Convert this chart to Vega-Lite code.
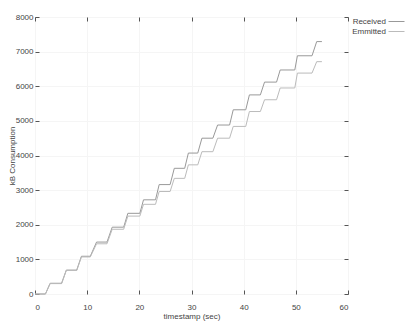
{
  "$schema": "https://vega.github.io/schema/vega-lite/v6.json",
  "width": 313,
  "height": 277,
  "autosize": "none",
  "padding": {"left": 35, "top": 17, "right": 62, "bottom": 28},
  "config": {
    "font": "Liberation Sans",
    "view": {"stroke": "#555", "strokeWidth": 1},
    "axis": {
      "domain": false,
      "tickColor": "#555",
      "tickSize": -4,
      "labelColor": "#444",
      "labelFontSize": 8,
      "titleColor": "#444",
      "titleFontSize": 8,
      "titleFontWeight": "normal",
      "gridColor": "#f5f5f5",
      "gridWidth": 1,
      "format": "d"
    }
  },
  "data": {"values": [
    {"t": 0, "kb": 0, "s": "Received"},
    {"t": 2.0, "kb": 0, "s": "Received"},
    {"t": 2.9, "kb": 310, "s": "Received"},
    {"t": 5.1, "kb": 310, "s": "Received"},
    {"t": 6.0, "kb": 690, "s": "Received"},
    {"t": 8.0, "kb": 690, "s": "Received"},
    {"t": 8.9, "kb": 1090, "s": "Received"},
    {"t": 10.6, "kb": 1090, "s": "Received"},
    {"t": 11.8, "kb": 1500, "s": "Received"},
    {"t": 13.8, "kb": 1500, "s": "Received"},
    {"t": 14.8, "kb": 1930, "s": "Received"},
    {"t": 17.0, "kb": 1930, "s": "Received"},
    {"t": 17.8, "kb": 2330, "s": "Received"},
    {"t": 20.1, "kb": 2330, "s": "Received"},
    {"t": 20.8, "kb": 2720, "s": "Received"},
    {"t": 23.1, "kb": 2720, "s": "Received"},
    {"t": 23.8, "kb": 3160, "s": "Received"},
    {"t": 25.9, "kb": 3160, "s": "Received"},
    {"t": 26.7, "kb": 3630, "s": "Received"},
    {"t": 28.7, "kb": 3630, "s": "Received"},
    {"t": 29.4, "kb": 4070, "s": "Received"},
    {"t": 31.2, "kb": 4070, "s": "Received"},
    {"t": 32.0, "kb": 4500, "s": "Received"},
    {"t": 34.1, "kb": 4500, "s": "Received"},
    {"t": 35.0, "kb": 4880, "s": "Received"},
    {"t": 37.3, "kb": 4880, "s": "Received"},
    {"t": 38.0, "kb": 5320, "s": "Received"},
    {"t": 40.4, "kb": 5320, "s": "Received"},
    {"t": 41.1, "kb": 5750, "s": "Received"},
    {"t": 43.2, "kb": 5750, "s": "Received"},
    {"t": 44.0, "kb": 6120, "s": "Received"},
    {"t": 46.3, "kb": 6120, "s": "Received"},
    {"t": 47.0, "kb": 6470, "s": "Received"},
    {"t": 49.8, "kb": 6470, "s": "Received"},
    {"t": 50.3, "kb": 6880, "s": "Received"},
    {"t": 53.1, "kb": 6880, "s": "Received"},
    {"t": 54.0, "kb": 7290, "s": "Received"},
    {"t": 55.0, "kb": 7290, "s": "Received"},
    {"t": 0, "kb": 0, "s": "Emmitted"},
    {"t": 2.0, "kb": 0, "s": "Emmitted"},
    {"t": 2.9, "kb": 300, "s": "Emmitted"},
    {"t": 5.1, "kb": 300, "s": "Emmitted"},
    {"t": 6.0, "kb": 680, "s": "Emmitted"},
    {"t": 8.0, "kb": 680, "s": "Emmitted"},
    {"t": 8.9, "kb": 1070, "s": "Emmitted"},
    {"t": 10.6, "kb": 1070, "s": "Emmitted"},
    {"t": 11.8, "kb": 1450, "s": "Emmitted"},
    {"t": 13.8, "kb": 1450, "s": "Emmitted"},
    {"t": 14.8, "kb": 1870, "s": "Emmitted"},
    {"t": 17.0, "kb": 1870, "s": "Emmitted"},
    {"t": 17.8, "kb": 2250, "s": "Emmitted"},
    {"t": 20.1, "kb": 2250, "s": "Emmitted"},
    {"t": 20.8, "kb": 2590, "s": "Emmitted"},
    {"t": 23.1, "kb": 2590, "s": "Emmitted"},
    {"t": 23.8, "kb": 2960, "s": "Emmitted"},
    {"t": 25.9, "kb": 2960, "s": "Emmitted"},
    {"t": 26.7, "kb": 3340, "s": "Emmitted"},
    {"t": 28.7, "kb": 3340, "s": "Emmitted"},
    {"t": 29.4, "kb": 3730, "s": "Emmitted"},
    {"t": 31.2, "kb": 3730, "s": "Emmitted"},
    {"t": 32.0, "kb": 4110, "s": "Emmitted"},
    {"t": 34.1, "kb": 4110, "s": "Emmitted"},
    {"t": 35.0, "kb": 4500, "s": "Emmitted"},
    {"t": 37.3, "kb": 4500, "s": "Emmitted"},
    {"t": 38.0, "kb": 4840, "s": "Emmitted"},
    {"t": 40.4, "kb": 4840, "s": "Emmitted"},
    {"t": 41.1, "kb": 5270, "s": "Emmitted"},
    {"t": 43.2, "kb": 5270, "s": "Emmitted"},
    {"t": 44.0, "kb": 5610, "s": "Emmitted"},
    {"t": 46.3, "kb": 5610, "s": "Emmitted"},
    {"t": 47.0, "kb": 5950, "s": "Emmitted"},
    {"t": 49.8, "kb": 5950, "s": "Emmitted"},
    {"t": 50.3, "kb": 6380, "s": "Emmitted"},
    {"t": 53.1, "kb": 6380, "s": "Emmitted"},
    {"t": 54.0, "kb": 6710, "s": "Emmitted"},
    {"t": 55.0, "kb": 6710, "s": "Emmitted"}
  ]},
  "layer": [
    {
      "mark": {"type": "line", "strokeWidth": 1},
      "encoding": {
        "x": {
          "field": "t", "type": "quantitative",
          "scale": {"domain": [0, 60], "nice": false, "zero": false},
          "axis": {"orient": "bottom", "title": "timestamp (sec)", "values": [0, 10, 20, 30, 40, 50, 60], "labelPadding": 13, "titlePadding": 1}
        },
        "y": {
          "field": "kb", "type": "quantitative",
          "scale": {"domain": [0, 8000], "nice": false},
          "axis": {"orient": "left", "title": "kB Consumption", "values": [0, 1000, 2000, 3000, 4000, 5000, 6000, 7000, 8000], "labelPadding": 6, "titlePadding": -1}
        },
        "color": {
          "field": "s", "type": "nominal",
          "scale": {"domain": ["Received", "Emmitted"], "range": ["#999999", "#bbbbbb"]},
          "legend": {
            "title": null, "orient": "none", "legendX": 356, "legendY": -1,
            "symbolType": "M-1.6,0H1.6", "symbolSize": 100, "symbolStrokeWidth": 1,
            "labelAlign": "right", "labelOffset": -16, "labelFontSize": 8, "labelColor": "#444",
            "rowPadding": 0
          }
        }
      }
    },
    {
      "mark": {"type": "line", "opacity": 0},
      "encoding": {
        "x": {"field": "t", "type": "quantitative", "axis": {"orient": "top", "labels": false, "title": null, "grid": false, "values": [0, 10, 20, 30, 40, 50, 60]}},
        "y": {"field": "kb", "type": "quantitative", "axis": {"orient": "right", "labels": false, "title": null, "grid": false, "values": [0, 1000, 2000, 3000, 4000, 5000, 6000, 7000, 8000]}}
      }
    }
  ],
  "resolve": {"axis": {"x": "independent", "y": "independent"}}
}
